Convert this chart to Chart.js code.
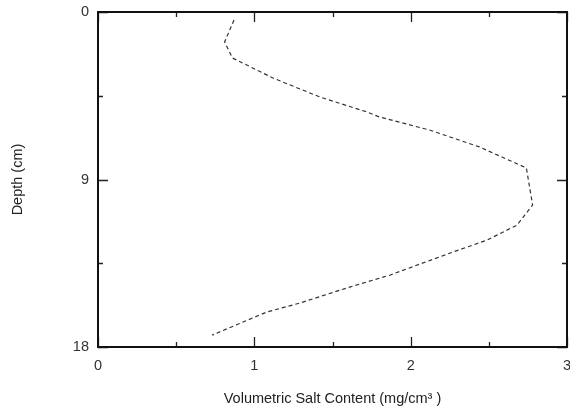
<!DOCTYPE html>
<html>
<head>
<meta charset="utf-8">
<script src="https://cdn.jsdelivr.net/npm/chart.js@4/dist/chart.umd.min.js"></script>
<style>
  html, body { margin: 0; padding: 0; background: #fff; }
  .chart-area { width: 570px; height: 409px; }
</style>
</head>
<body>
<div class="chart-area"><canvas id="myChart" width="570" height="409"></canvas></div>
<script>
// salt content (mg/cm3), with the depth (cm) for each point
const saltContent = [0.87, 0.81, 0.86, 1.12, 1.42, 1.72, 1.80, 2.12, 2.44, 2.74, 2.78, 2.68, 2.49, 2.27, 2.06, 1.87, 1.61, 1.29, 1.08, 0.73];
const depth = [0.43, 1.61, 2.47, 3.55, 4.57, 5.37, 5.64, 6.34, 7.25, 8.38, 10.37, 11.45, 12.25, 12.9, 13.54, 14.13, 14.78, 15.64, 16.12, 17.36];

const xTicks = [0, 1, 2, 3];
const yTicks = [0, 9, 18];
const xMinor = [0.5, 1.5, 2.5];
const yMinor = [4.5, 13.5];

// inward tick marks on all four sides plus the frame
const frameTicks = {
  id: "frameTicks",
  afterDraw(chart) {
    const ctx = chart.ctx;
    const a = chart.chartArea;
    const x = chart.scales.x;
    const y = chart.scales.y;
    ctx.save();
    ctx.strokeStyle = "#222";
    ctx.lineWidth = 1.3;
    const xt = (v, len) => {
      const px = Math.round(x.getPixelForValue(v)) + 0.5;
      ctx.beginPath();
      ctx.moveTo(px, a.bottom); ctx.lineTo(px, a.bottom - len);
      ctx.moveTo(px, a.top); ctx.lineTo(px, a.top + len);
      ctx.stroke();
    };
    const yt = (v, len) => {
      const py = Math.round(y.getPixelForValue(v)) + 0.5;
      ctx.beginPath();
      ctx.moveTo(a.left, py); ctx.lineTo(a.left + len, py);
      ctx.moveTo(a.right, py); ctx.lineTo(a.right - len, py);
      ctx.stroke();
    };
    xTicks.forEach((v) => xt(v, 10));
    xMinor.forEach((v) => xt(v, 5));
    yTicks.forEach((v) => yt(v, 10));
    yMinor.forEach((v) => yt(v, 5));
    ctx.strokeStyle = "#111";
    ctx.lineWidth = 2;
    ctx.strokeRect(a.left, a.top, a.right - a.left, a.bottom - a.top);
    ctx.restore();
  },
};

const labelFont = { family: "'Liberation Sans', Arial, sans-serif", size: 14.5 };

new Chart(document.getElementById("myChart").getContext("2d"), {
  type: "scatter",
  data: {
    datasets: [
      {
        label: "Salt",
        data: saltContent.map((v, i) => ({ x: v, y: depth[i] })),
        showLine: true,
        borderColor: "#333",
        borderWidth: 1.2,
        borderDash: [4, 3],
        pointRadius: 0,
        tension: 0,
      },
    ],
  },
  options: {
    responsive: false,
    animation: false,
    layout: { padding: { top: 12, right: 3, left: 0, bottom: 0 } },
    plugins: { legend: { display: false }, tooltip: { enabled: false } },
    scales: {
      x: {
        type: "linear",
        min: 0,
        max: 3,
        afterBuildTicks: (s) => { s.ticks = xTicks.map((v) => ({ value: v })); },
        afterFit: (s) => { s.height = 62; s.paddingLeft = 0; s.paddingRight = 0; },
        grid: { display: false, drawTicks: false },
        border: { display: false },
        ticks: { color: "#333", font: labelFont, padding: 10 },
        title: {
          display: true,
          text: "Volumetric Salt Content (mg/cm³ )",
          color: "#222",
          font: labelFont,
          padding: { top: 0, bottom: 1 },
        },
      },
      y: {
        type: "linear",
        reverse: true,
        min: 0,
        max: 18,
        afterBuildTicks: (s) => { s.ticks = yTicks.map((v) => ({ value: v })); },
        afterFit: (s) => { s.width = 98; s.paddingTop = 0; s.paddingBottom = 0; },
        grid: { display: false, drawTicks: false },
        border: { display: false },
        ticks: { color: "#333", font: labelFont, padding: 9 },
        title: {
          display: true,
          text: "Depth (cm)",
          color: "#222",
          font: labelFont,
          padding: { top: 9, bottom: 0 },
        },
      },
    },
  },
  plugins: [frameTicks],
});
</script>
</body>
</html>
